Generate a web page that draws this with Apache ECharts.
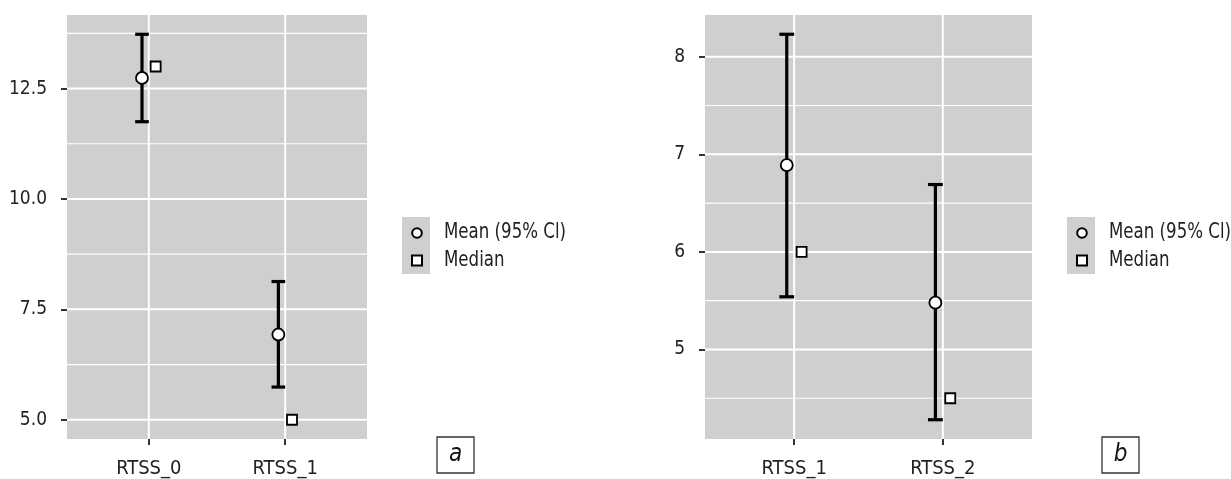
<!DOCTYPE html>
<html><head><meta charset="utf-8">
<script src="https://cdn.jsdelivr.net/npm/echarts@6/dist/echarts.min.js"></script>
<style>html,body{margin:0;padding:0;background:#fff}#c{width:1231px;height:479px}</style>
</head><body><div id="c"></div>
<script>
// ---- Panel a data ----
const categoriesA = ['RTSS_0', 'RTSS_1'];
const meanA   = [12.74, 6.93];
const lowerA  = [11.75, 5.74];
const upperA  = [13.73, 8.13];
const medianA = [13.0, 5.0];
const yTicksA = [5.0, 7.5, 10.0, 12.5];
const yMinorA = [6.25, 8.75, 11.25, 13.75];

// ---- Panel b data ----
const categoriesB = ['RTSS_1', 'RTSS_2'];
const meanB   = [6.89, 5.48];
const lowerB  = [5.54, 4.28];
const upperB  = [8.23, 6.69];
const medianB = [6.0, 4.5];
const yTicksB = [5, 6, 7, 8];
const yMinorB = [4.5, 5.5, 6.5, 7.5];

const legendNames = ['Mean (95% Cl)', 'Median'];
const panelLabels = ['a', 'b'];

const FONT = '"DejaVu Sans Condensed", "Liberation Sans Narrow", sans-serif';
const BG = '#cfcfcf';
const DODGE = 0.05;
const CAP = 0.05;

function extent(lists) {
  let lo = Infinity, hi = -Infinity;
  lists.forEach(l => l.forEach(v => { lo = Math.min(lo, v); hi = Math.max(hi, v); }));
  const pad = (hi - lo) * 0.05;
  return [lo - pad, hi + pad];
}
const extA = extent([lowerA, upperA, medianA, meanA]);
const extB = extent([lowerB, upperB, medianB, meanB]);

const grids = [
  { left: 67, top: 15, width: 300, height: 424, show: true, backgroundColor: BG, borderWidth: 0 },
  { left: 705, top: 15, width: 327, height: 424, show: true, backgroundColor: BG, borderWidth: 0 }
];

function xAxis(idx, cats) {
  return {
    type: 'value', gridIndex: idx, min: 0.4, max: 2.6,
    axisLine: { show: false },
    splitLine: { show: false },
    axisTick: { show: true, length: 6, customValues: [1, 2], lineStyle: { color: '#333', width: 2 } },
    axisLabel: { customValues: [1, 2], formatter: v => cats[Math.round(v) - 1], margin: 20,
      color: '#222', fontSize: 20, fontFamily: FONT }
  };
}
function yAxis(idx, ext, ticks, fmt) {
  return {
    type: 'value', gridIndex: idx, min: ext[0], max: ext[1],
    axisLine: { show: false },
    splitLine: { show: false },
    axisTick: { show: true, length: 6, customValues: ticks, lineStyle: { color: '#333', width: 2 } },
    axisLabel: { customValues: ticks, formatter: fmt, margin: 20,
      color: '#222', fontSize: 19, fontFamily: FONT }
  };
}

function hLines(idx, vals, w) {
  return {
    type: 'custom', xAxisIndex: idx, yAxisIndex: idx, z: 1, silent: true,
    data: vals.map(v => [1, v]), encode: { x: 0, y: 1 },
    renderItem: (params, api) => {
      const cs = params.coordSys;
      const p = api.coord([1, api.value(1)]);
      return { type: 'line', shape: { x1: cs.x, y1: p[1], x2: cs.x + cs.width, y2: p[1] },
        style: { stroke: '#ffffff', lineWidth: w } };
    }
  };
}
function vLines(idx, ext) {
  const mid = (ext[0] + ext[1]) / 2;
  return {
    type: 'custom', xAxisIndex: idx, yAxisIndex: idx, z: 1, silent: true,
    data: [[1, mid], [2, mid]], encode: { x: 0, y: 1 },
    renderItem: (params, api) => {
      const cs = params.coordSys;
      const p = api.coord([api.value(0), mid]);
      return { type: 'line', shape: { x1: p[0], y1: cs.y, x2: p[0], y2: cs.y + cs.height },
        style: { stroke: '#ffffff', lineWidth: 2 } };
    }
  };
}
function errBars(idx, lower, upper) {
  return {
    type: 'custom', name: legendNames[0], xAxisIndex: idx, yAxisIndex: idx, z: 2, silent: true,
    data: lower.map((l, i) => [i + 1 - DODGE, l, upper[i]]),
    encode: { x: 0, y: [1, 2] },
    renderItem: (params, api) => {
      const x = api.value(0);
      const a = api.coord([x, api.value(1)]);
      const b = api.coord([x, api.value(2)]);
      const hw = api.size([CAP, 0])[0];
      const st = { stroke: '#000', lineWidth: 3.2 };
      return { type: 'group', children: [
        { type: 'line', shape: { x1: a[0], y1: a[1], x2: b[0], y2: b[1] }, style: st },
        { type: 'line', shape: { x1: a[0] - hw, y1: a[1], x2: a[0] + hw, y2: a[1] }, style: st },
        { type: 'line', shape: { x1: b[0] - hw, y1: b[1], x2: b[0] + hw, y2: b[1] }, style: st }
      ]};
    }
  };
}
function points(idx, vals, off, symbol, size, name) {
  return {
    type: 'scatter', name: name, xAxisIndex: idx, yAxisIndex: idx, z: 3, silent: true,
    symbol: symbol, symbolSize: size,
    itemStyle: { color: '#ffffff', borderColor: '#000', borderWidth: 1.8, opacity: 1 },
    data: vals.map((v, i) => [i + 1 + off, v])
  };
}

function legendGraphic(dx, label) {
  const t = { fontSize: 21, fontFamily: FONT, fill: '#222' };
  return [
    { type: 'rect', shape: { x: 402 + dx, y: 217, width: 28, height: 57 }, style: { fill: BG } },
    { type: 'circle', shape: { cx: 417 + dx, cy: 233, r: 4.8 }, style: { fill: '#fff', stroke: '#000', lineWidth: 2 } },
    { type: 'rect', shape: { x: 412 + dx, y: 255.5, width: 10, height: 10 }, style: { fill: '#fff', stroke: '#000', lineWidth: 2 } },
    { type: 'text', x: 444 + dx, y: 233, scaleX: 0.88, style: Object.assign({ text: legendNames[0], verticalAlign: 'middle' }, t) },
    { type: 'text', x: 444 + dx, y: 261, scaleX: 0.88, style: Object.assign({ text: legendNames[1], verticalAlign: 'middle' }, t) },
    { type: 'rect', shape: { x: 437 + dx, y: 437, width: 37, height: 36 }, style: { fill: 'none', stroke: '#333', lineWidth: 1.3 } },
    { type: 'text', x: 455.5 + dx, y: 455, style: { text: label, align: 'center', verticalAlign: 'middle',
        fontSize: 24, fontStyle: 'italic', fontFamily: FONT, fill: '#111' } }
  ];
}

const chart = echarts.init(document.getElementById('c'), null, { renderer: 'canvas' });
chart.setOption({
  animation: false,
  backgroundColor: '#ffffff',
  grid: grids,
  xAxis: [xAxis(0, categoriesA), xAxis(1, categoriesB)],
  yAxis: [yAxis(0, extA, yTicksA, v => v.toFixed(1)), yAxis(1, extB, yTicksB, v => String(v))],
  series: [
    hLines(0, yMinorA, 1.2), hLines(0, yTicksA, 2), vLines(0, extA),
    errBars(0, lowerA, upperA),
    points(0, meanA, -DODGE, 'circle', 12, legendNames[0]),
    points(0, medianA, DODGE, 'rect', 10, legendNames[1]),
    hLines(1, yMinorB, 1.2), hLines(1, yTicksB, 2), vLines(1, extB),
    errBars(1, lowerB, upperB),
    points(1, meanB, -DODGE, 'circle', 12, legendNames[0]),
    points(1, medianB, DODGE, 'rect', 10, legendNames[1])
  ],
  graphic: legendGraphic(0, panelLabels[0]).concat(legendGraphic(665, panelLabels[1]))
});
</script></body></html>
